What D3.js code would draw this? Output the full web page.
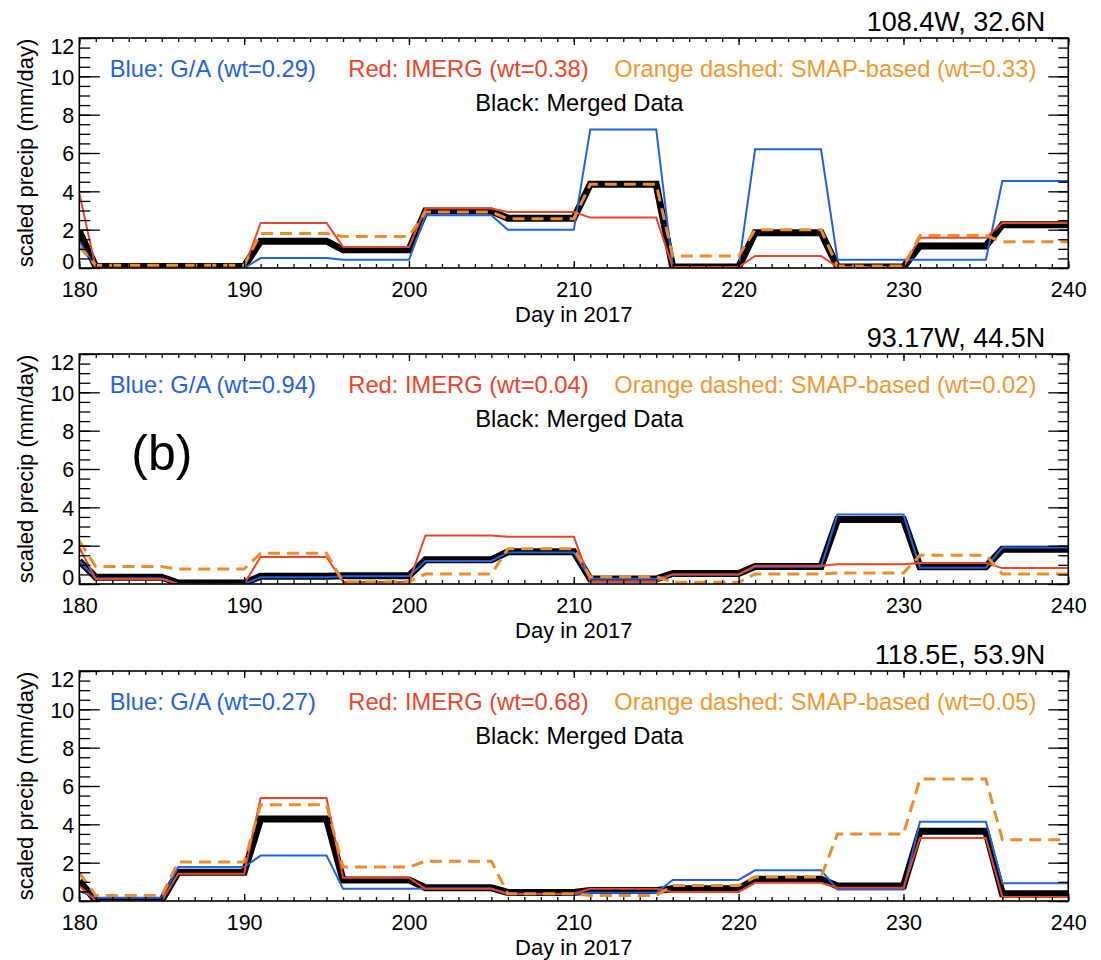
<!DOCTYPE html>
<html>
<head>
<meta charset="utf-8">
<script src="https://cdn.jsdelivr.net/npm/d3@7"></script>
<style>
    body { margin: 0; background: #fff; }
    text { font-family: "Liberation Sans", Arial, Helvetica, sans-serif; }
</style>
</head>
<body>
<div id="wrapper"></div>
<script>
// 1. Access data
// first point is day 180, then one value per 5-day period
const firstDay = 180
const periodStart = [181, 186, 191, 196, 201, 206, 211, 216, 221, 226, 231, 236]
const periodEnd   = [185, 190, 195, 200, 205, 210, 215, 220, 225, 230, 235, 240]

const locations = ["108.4W, 32.6N", "93.17W, 44.5N", "118.5E, 53.9N"]
const gaWeights = [0.29, 0.94, 0.27]
const imergWeights = [0.38, 0.04, 0.68]
const smapWeights = [0.33, 0.02, 0.05]

// panel 1
const ga1     = [1.4, 0.0, 0.0, 0.52, 0.43, 2.75, 2.0, 7.23, 0.05, 6.19, 0.43, 0.43, 4.54]
const imerg1  = [3.9, 0.0, 0.0, 2.35, 1.1, 3.1, 2.92, 2.63, 0.05, 0.63, 0.05, 1.58, 2.35]
const smap1   = [1.1, 0.15, 0.15, 1.8, 1.65, 2.92, 2.57, 4.37, 0.63, 2.0, 0.1, 1.69, 1.37]
const merged1 = [1.9, 0.08, 0.08, 1.4, 0.95, 2.97, 2.6, 4.37, 0.05, 1.84, 0.05, 1.15, 2.26]

// panel 2
const ga2     = [1.2, 0.3, 0.0, 0.35, 0.4, 1.2, 1.65, 0.28, 0.5, 0.9, 3.62, 0.85, 1.9]
const imerg2  = [1.9, 0.26, 0.0, 1.41, 0.1, 2.53, 2.47, 0.14, 0.5, 0.95, 1.03, 1.09, 0.83]
const smap2   = [2.24, 0.91, 0.78, 1.6, 0.12, 0.52, 1.84, 0.38, 0.09, 0.52, 0.57, 1.5, 0.52]
const merged2 = [1.2, 0.35, 0.05, 0.4, 0.43, 1.26, 1.68, 0.26, 0.55, 0.91, 3.36, 0.9, 1.81]

// panel 3
const ga3     = [0.52, 0.17, 1.77, 2.37, 0.64, 0.65, 0.35, 0.43, 1.1, 1.6, 0.6, 4.14, 0.93]
const imerg3  = [0.8, 0.0, 1.42, 5.37, 1.21, 0.64, 0.38, 0.64, 0.47, 0.95, 0.69, 3.29, 0.21]
const smap3   = [1.47, 0.29, 2.03, 5.02, 1.77, 2.08, 0.38, 0.29, 0.81, 1.25, 3.5, 6.36, 3.2]
const merged3 = [1.04, 0.03, 1.5, 4.28, 1.1, 0.69, 0.45, 0.55, 0.64, 1.13, 0.78, 3.64, 0.38]

const xTicks = [180, 190, 200, 210, 220, 230, 240]
const yTicks = [0, 2, 4, 6, 8, 10, 12]

const panels = [
    { ga: ga1, imerg: imerg1, smap: smap1, merged: merged1 },
    { ga: ga2, imerg: imerg2, smap: smap2, merged: merged2 },
    { ga: ga3, imerg: imerg3, smap: smap3, merged: merged3 },
]

const toPoints = values => [{ day: firstDay, value: values[0] }]
    .concat(periodStart.flatMap((s, i) => [
        { day: s, value: values[i + 1] },
        { day: periodEnd[i], value: values[i + 1] },
    ]))

// 2. Create chart dimensions
const dimensions = {
    width: 1101,
    height: 960,
    left: 79.3,
    boundedWidth: 989,
    boundedHeight: 230,
    tops: [38, 354, 671],
}

const colors = {
    blue: "#1f62e4",
    red: "#ea4529",
    orange: "#f08c28",
    orangeText: "#f0982f",
}

// 3. Draw canvas
const wrapper = d3.select("#wrapper")
    .append("svg")
    .attr("width", dimensions.width)
    .attr("height", dimensions.height)

// 4. Create scales
const xScale = d3.scaleLinear()
    .domain([180, 240])
    .range([0, dimensions.boundedWidth])

const yScale = d3.scaleLinear()
    .domain([0, 12])
    .range([dimensions.boundedHeight, 0])

const lineGenerator = d3.line()
    .x(d => xScale(d.day))
    .y(d => yScale(d.value))

const minorX = d3.range(180, 241, 1)
const minorY = d3.range(0, 12.01, 0.5)

panels.forEach((panel, i) => {
    const bounds = wrapper.append("g")
        .attr("transform", `translate(${dimensions.left}, ${dimensions.tops[i]})`)

    bounds.append("clipPath")
        .attr("id", `clip${i}`)
        .append("rect")
        .attr("width", dimensions.boundedWidth)
        .attr("height", dimensions.boundedHeight)

    // 5. Draw data
    const lines = bounds.append("g").attr("clip-path", `url(#clip${i})`)

    lines.append("path")
        .attr("d", lineGenerator(toPoints(panel.merged)))
        .attr("fill", "none")
        .attr("stroke", "#000")
        .attr("stroke-width", 7)

    lines.append("path")
        .attr("d", lineGenerator(toPoints(panel.ga)))
        .attr("fill", "none")
        .attr("stroke", colors.blue)
        .attr("stroke-width", 2)

    lines.append("path")
        .attr("d", lineGenerator(toPoints(panel.imerg)))
        .attr("fill", "none")
        .attr("stroke", colors.red)
        .attr("stroke-width", 2)

    lines.append("path")
        .attr("d", lineGenerator(toPoints(panel.smap)))
        .attr("fill", "none")
        .attr("stroke", colors.orange)
        .attr("stroke-width", 3)
        .attr("stroke-dasharray", "12,7")

    // 6. Draw peripherals
    bounds.append("g")
        .attr("transform", `translate(0, ${dimensions.boundedHeight})`)
        .call(d3.axisBottom(xScale).tickValues(minorX).tickSize(-4).tickFormat(""))
    bounds.append("g")
        .call(d3.axisTop(xScale).tickValues(minorX).tickSize(-4).tickFormat(""))
    const xAxis = bounds.append("g")
        .attr("transform", `translate(0, ${dimensions.boundedHeight})`)
        .call(d3.axisBottom(xScale).tickValues(xTicks).tickSize(-7).tickPadding(13.5))
    bounds.append("g")
        .call(d3.axisTop(xScale).tickValues(xTicks).tickSize(-7).tickFormat(""))

    bounds.append("g")
        .call(d3.axisLeft(yScale).tickValues(minorY).tickSize(-11).tickFormat(""))
    bounds.append("g")
        .attr("transform", `translate(${dimensions.boundedWidth}, 0)`)
        .call(d3.axisRight(yScale).tickValues(minorY).tickSize(-10).tickFormat(""))
    const yAxis = bounds.append("g")
        .call(d3.axisLeft(yScale).tickValues(yTicks).tickSize(-20.5).tickPadding(5))
    bounds.append("g")
        .attr("transform", `translate(${dimensions.boundedWidth}, 0)`)
        .call(d3.axisRight(yScale).tickValues(yTicks).tickSize(-20).tickFormat(""))

    bounds.selectAll(".domain").remove()
    bounds.selectAll(".tick line").attr("stroke", "#000").attr("stroke-width", 1.3)
    bounds.selectAll(".tick text")
        .attr("fill", "#000")
        .style("font-size", "21.5px")
    yAxis.selectAll(".tick text")
        .attr("dy", d => d === 0 ? "0em" : d === 12 ? "0.72em" : "0.36em")

    bounds.append("rect")
        .attr("width", dimensions.boundedWidth)
        .attr("height", dimensions.boundedHeight)
        .attr("fill", "none")
        .attr("stroke", "#000")
        .attr("stroke-width", 1.6)

    bounds.append("text")
        .attr("x", dimensions.boundedWidth / 2)
        .attr("y", dimensions.boundedHeight + 54)
        .attr("text-anchor", "middle")
        .style("font-size", "22px")
        .text("Day in 2017")

    bounds.append("text")
        .attr("transform", `translate(${33 - dimensions.left}, ${dimensions.boundedHeight / 2}) rotate(-90)`)
        .attr("text-anchor", "middle")
        .style("font-size", "22px")
        .text("scaled precip (mm/day)")

    bounds.append("text")
        .attr("x", 966)
        .attr("y", -7)
        .attr("text-anchor", "end")
        .style("font-size", "27px")
        .text(locations[i])

    // legend
    bounds.append("text")
        .attr("x", 30.5)
        .attr("y", 39)
        .attr("fill", colors.blue)
        .style("font-size", "23.7px")
        .text(`Blue: G/A (wt=${gaWeights[i].toFixed(2)})`)

    bounds.append("text")
        .attr("x", 269)
        .attr("y", 39)
        .attr("fill", colors.red)
        .style("font-size", "23.7px")
        .text(`Red: IMERG (wt=${imergWeights[i].toFixed(2)})`)

    bounds.append("text")
        .attr("x", 535)
        .attr("y", 39)
        .attr("fill", colors.orangeText)
        .style("font-size", "23.7px")
        .text(`Orange dashed: SMAP-based (wt=${smapWeights[i].toFixed(2)})`)

    bounds.append("text")
        .attr("x", 396)
        .attr("y", 73)
        .attr("fill", "#000")
        .style("font-size", "23.7px")
        .text("Black: Merged Data")

    if (i === 1) {
        bounds.append("text")
            .attr("x", 52)
            .attr("y", 116)
            .style("font-size", "50px")
            .text("(b)")
    }
})
</script>
</body>
</html>
